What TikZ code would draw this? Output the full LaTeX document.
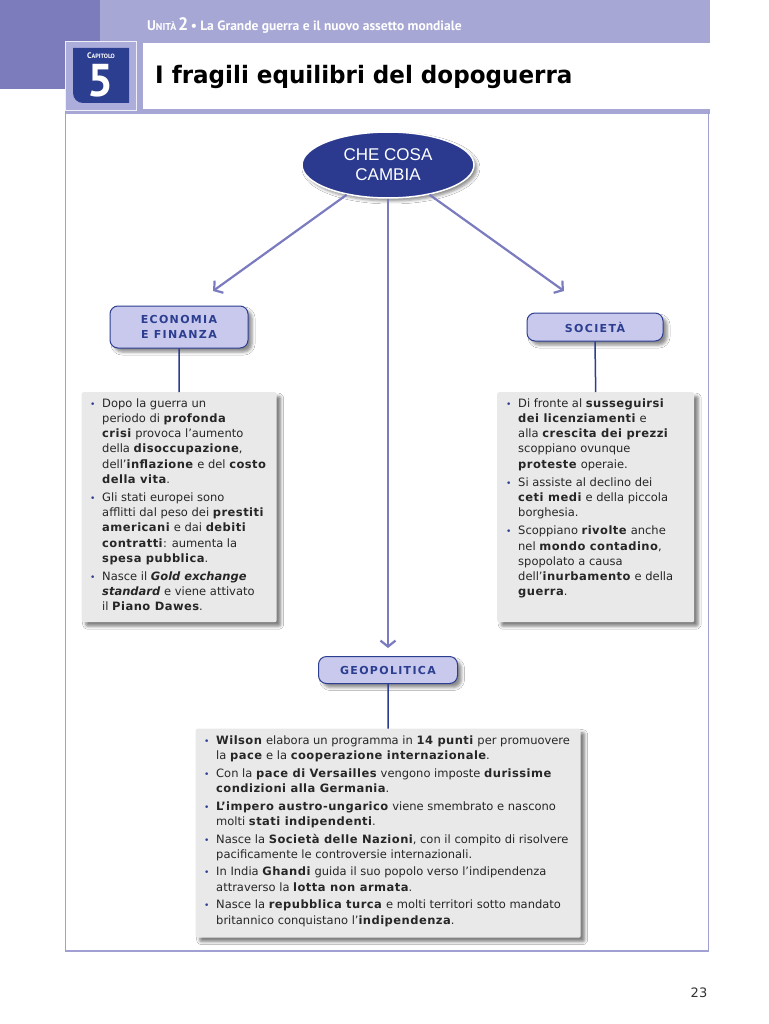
\documentclass[tikz,border=0pt]{standalone}
\usepackage{fontspec}
\setmainfont{DejaVu Sans}[BoldFeatures={LetterSpace=4}]
\newfontfamily\hdfont{PT Sans}
\newfontfamily\titlefont{DejaVu Sans}[FakeStretch=0.96]
\newfontfamily\ellfont{Liberation Sans}
\newfontfamily\labfont{DejaVu Sans}[LetterSpace=12]
\usetikzlibrary{arrows.meta,shapes.geometric,shadows.blur}
\definecolor{hdark}{HTML}{7C7CBD}
\definecolor{hlight}{HTML}{A7A7D6}
\definecolor{capframe}{HTML}{ADADDB}
\definecolor{capblue}{HTML}{2C3E8F}
\definecolor{ellblue}{HTML}{2B3A8E}
\definecolor{boxfill}{HTML}{C9C9EE}
\definecolor{boxdraw}{HTML}{2C3E8F}
\definecolor{arrowc}{HTML}{7B7BC0}
\definecolor{framec}{HTML}{A0A0D2}
\definecolor{textbg}{HTML}{E9E9E9}
\definecolor{bulc}{HTML}{2C3E8F}
\newcommand{\bl}{\makebox[13pt][l]{\hspace{1pt}\textcolor{bulc}{\fontsize{9}{9}\selectfont •}}}
\begin{document}
\begin{tikzpicture}[x=1pt,y=-1pt,
  ell/.style={ellipse, fill=ellblue, draw=white, line width=1.5pt, minimum width=172pt, minimum height=66pt, inner sep=0pt, text=white, align=center, font=\ellfont\fontsize{17}{20}\selectfont, blur shadow={shadow xshift=3pt, shadow yshift=-3pt, shadow blur radius=3pt, shadow opacity=45}},
  lab/.style={rounded corners=8pt, fill=boxfill, draw=boxdraw, line width=1pt, inner sep=0pt, align=center, text=capblue, font=\labfont\bfseries\fontsize{11}{15}\selectfont, blur shadow={shadow xshift=4pt, shadow yshift=-4pt, shadow blur radius=3pt, shadow opacity=45}},
  tbox/.style={rounded corners=2pt, fill=textbg, inner sep=0pt, anchor=north west, blur shadow={shadow xshift=4pt, shadow yshift=-4pt, shadow blur radius=3pt, shadow opacity=50}},
  ttext/.style={anchor=north west, inner sep=0pt, font=\fontsize{11.5}{15.2}\selectfont, text=black!85},
  arr/.style={draw=arrowc, line width=2.2pt, -{Straight Barb[length=6pt,width=15pt]}},
  stem/.style={draw=boxdraw, line width=1.5pt}
]
\useasboundingbox (0,0) rectangle (768,1024);
\fill[white] (0,0) rectangle (768,1024);
% header
\fill[hdark] (0,0) rectangle (100,89);
\fill[hlight] (100,0) rectangle (710,114);
\fill[hlight] (65,109) rectangle (710,114);
\fill[white] (143,43) rectangle (710,109);
\filldraw[fill=capframe, draw=white!80!capframe, line width=0.8pt] (65,41) rectangle (136,110);
\fill[capblue] (73,48) -- (129,48) -- (129,103) [rounded corners=10pt]-- (73,103) [sharp corners]-- (73,48) -- cycle;
\node[text=white, inner sep=0pt, font=\hdfont\bfseries] (capt) at (101,56) {{\fontsize{8}{8}\selectfont C}{\fontsize{6.2}{8}\selectfont APITOLO}};
\node[text=white, inner sep=0pt, font=\hdfont\bfseries\fontsize{46}{46}\selectfont] (capn) at (101,81) {5};
\node[anchor=base west, inner sep=0pt, text=white, font=\hdfont\bfseries] (unit) at (147,31) {{\fontsize{14}{14}\selectfont U}{\fontsize{10}{10}\selectfont NITÀ}\,{\fontsize{18}{18}\selectfont 2}\ {\fontsize{13.5}{13.5}\selectfont •\ La Grande guerra e il nuovo assetto mondiale}};
\node[anchor=base west, inner sep=0pt, font=\titlefont\bfseries\fontsize{24}{24}\selectfont] (title) at (155,84) {I fragili equilibri del dopoguerra};
% frame
\draw[framec, line width=1.5pt] (65.5,111) -- (65.5,951) -- (708.5,951) -- (708.5,111);
% nodes
\node[ell] (cc) at (388,165) {CHE COSA\\CAMBIA};
\node[lab, minimum width=138pt, minimum height=42pt] (eco) at (179,327) {ECONOMIA\\E FINANZA};
\node[lab, minimum width=136pt, minimum height=28pt] (soc) at (595,327) {SOCIETÀ};
\node[lab, minimum width=139pt, minimum height=27pt] (geo) at (388,670) {GEOPOLITICA};
\node[tbox, minimum width=195pt, minimum height=230pt] (lb) at (81.5,392) {};
\node[tbox, minimum width=197pt, minimum height=230pt] (rb) at (497,392) {};
\node[tbox, minimum width=385pt, minimum height=209pt] (bb) at (195.5,728.5) {};
% connectors
\coordinate (ta1) at (213,291);
\coordinate (ta2) at (564,291);
\draw[arr] (cc) -- (ta1);
\draw[arr] (cc) -- (ta2);
\draw[arr, shorten >=8pt] (cc.south) -- (geo.north);
\draw[stem] (eco.south) -- (lb.north);
\draw[stem] (soc.south) -- (rb.north);
\draw[stem] (geo.south) -- (bb.north);
% texts
\node[ttext] (lt) at (89,396.5) {\begin{tabular}{@{}l@{}l@{}}
\bl & Dopo la guerra un\\
& periodo di \textbf{profonda}\\
& \textbf{crisi} provoca l’aumento\\
& della \textbf{disoccupazione},\\
& dell’\textbf{inflazione} e del \textbf{costo}\\
& \textbf{della vita}.\\[3pt]
\bl & Gli stati europei sono\\
& afflitti dal peso dei \textbf{prestiti}\\
& \textbf{americani} e dai \textbf{debiti}\\
& \textbf{contratti}: aumenta la\\
& \textbf{spesa pubblica}.\\[3pt]
\bl & Nasce il \textbf{\textit{Gold exchange}}\\
& \textbf{\textit{standard}} e viene attivato\\
& il \textbf{Piano Dawes}.
\end{tabular}};
\node[ttext] (rt) at (505,396.5) {\begin{tabular}{@{}l@{}l@{}}
\bl & Di fronte al \textbf{susseguirsi}\\
& \textbf{dei licenziamenti} e\\
& alla \textbf{crescita dei prezzi}\\
& scoppiano ovunque\\
& \textbf{proteste} operaie.\\[3pt]
\bl & Si assiste al declino dei\\
& \textbf{ceti medi} e della piccola\\
& borghesia.\\[3pt]
\bl & Scoppiano \textbf{rivolte} anche\\
& nel \textbf{mondo contadino},\\
& spopolato a causa\\
& dell’\textbf{inurbamento} e della\\
& \textbf{guerra}.
\end{tabular}};
\node[ttext] (bt) at (203,733.5) {\begin{tabular}{@{}l@{}l@{}}
\bl & \textbf{Wilson} elabora un programma in \textbf{14 punti} per promuovere\\
& la \textbf{pace} e la \textbf{cooperazione internazionale}.\\[2.5pt]
\bl & Con la \textbf{pace di Versailles} vengono imposte \textbf{durissime}\\
& \textbf{condizioni alla Germania}.\\[2.5pt]
\bl & \textbf{L’impero austro-ungarico} viene smembrato e nascono\\
& molti \textbf{stati indipendenti}.\\[2.5pt]
\bl & Nasce la \textbf{Società delle Nazioni}, con il compito di risolvere\\
& pacificamente le controversie internazionali.\\[2.5pt]
\bl & In India \textbf{Ghandi} guida il suo popolo verso l’indipendenza\\
& attraverso la \textbf{lotta non armata}.\\[2.5pt]
\bl & Nasce la \textbf{repubblica turca} e molti territori sotto mandato\\
& britannico conquistano l’\textbf{indipendenza}.
\end{tabular}};
\node[inner sep=0pt, text=black!80, font=\fontsize{13}{13}\selectfont] (pg) at (699,993) {23};
\end{tikzpicture}
\end{document}
